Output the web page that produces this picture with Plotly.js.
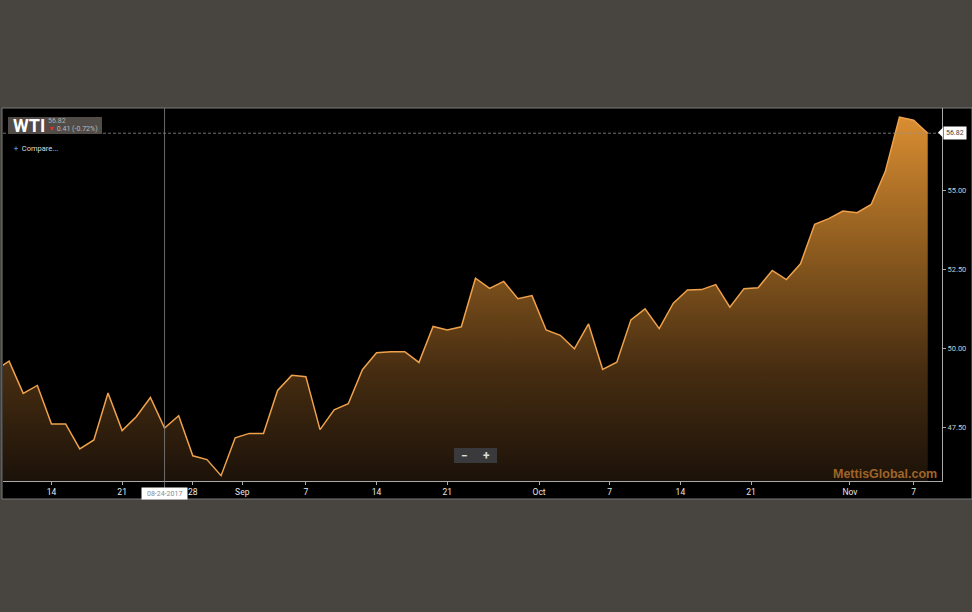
<!DOCTYPE html>
<html>
<head>
<meta charset="utf-8">
<script src="https://cdn.plot.ly/plotly-3.0.1.min.js"></script>
<style>
  html, body { margin: 0; padding: 0; background: #48443f; }
  #chart { width: 972px; height: 612px; }
</style>
</head>
<body>
<div id="chart"></div>
<script>
// ---- data (WTI daily close) ----
const dates = [
  '2017-08-08','2017-08-09','2017-08-10','2017-08-11',
  '2017-08-14','2017-08-15','2017-08-16','2017-08-17','2017-08-18',
  '2017-08-21','2017-08-22','2017-08-23','2017-08-24','2017-08-25',
  '2017-08-28','2017-08-29','2017-08-30','2017-08-31','2017-09-01',
  '2017-09-04','2017-09-05','2017-09-06','2017-09-07','2017-09-08',
  '2017-09-11','2017-09-12','2017-09-13','2017-09-14','2017-09-15',
  '2017-09-18','2017-09-19','2017-09-20','2017-09-21','2017-09-22',
  '2017-09-25','2017-09-26','2017-09-27','2017-09-28','2017-09-29',
  '2017-10-02','2017-10-03','2017-10-04','2017-10-05','2017-10-06',
  '2017-10-09','2017-10-10','2017-10-11','2017-10-12','2017-10-13',
  '2017-10-16','2017-10-17','2017-10-18','2017-10-19','2017-10-20',
  '2017-10-23','2017-10-24','2017-10-25','2017-10-26','2017-10-27',
  '2017-10-30','2017-10-31','2017-11-01','2017-11-02','2017-11-03',
  '2017-11-06','2017-11-07','2017-11-08'
];
const wti = [
  49.30, 49.59, 48.57, 48.82,
  47.60, 47.60, 46.81, 47.09, 48.58,
  47.39, 47.83, 48.44, 47.47, 47.86,
  46.59, 46.47, 45.96, 47.16, 47.30,
  47.30, 48.66, 49.14, 49.10, 47.42,
  48.05, 48.24, 49.32, 49.86, 49.89,
  49.89, 49.55, 50.69, 50.58, 50.68,
  52.22, 51.90, 52.12, 51.57, 51.67,
  50.58, 50.41, 49.98, 50.77, 49.33,
  49.56, 50.90, 51.25, 50.62, 51.43,
  51.85, 51.86, 52.02, 51.30, 51.89,
  51.92, 52.47, 52.18, 52.68, 53.93,
  54.11, 54.35, 54.30, 54.56, 55.61,
  57.33, 57.23, 56.82
];
// x tick positions (dates) and their labels
const tickDates = [
  '2017-08-14','2017-08-21','2017-08-28','2017-08-31 12:00','2017-09-07',
  '2017-09-14','2017-09-21','2017-09-29 12:00','2017-10-06 12:00','2017-10-13 12:00',
  '2017-10-20 12:00','2017-10-31 12:00','2017-11-07'
];
const tickLabels = ['14','21','28','Sep','7','14','21','Oct','7','14','21','Nov','7'];
const yTicks = [47.5, 50, 52.5, 55];
const symbol = 'WTI';
const change = '0.41 (-0.72%)';
const crossDate = '2017-08-24';

// ---- geometry helpers ----
const PL = 3, PR = 942, PT = 108, PB = 481;
const PW = PR - PL, PH = PB - PT;
const px = x => (x - PL) / PW;
const py = y => (PB - y) / PH;

const yRange = [45.79, 57.62];
const xRange = ['2017-08-08 13:40', '2017-11-09 00:15'];
const last = wti[wti.length - 1];
const cd = crossDate.split('-');
const crossLabel = cd[1] + '-' + cd[2] + '-' + cd[0];

const trace = {
  type: 'scatter',
  mode: 'lines',
  x: dates,
  y: wti,
  line: { color: '#efa24b', width: 1.5 },
  fill: 'tozeroy',
  fillgradient: {
    type: 'vertical',
    start: yRange[0],
    stop: yRange[1],
    colorscale: [
      [0, '#1c1209'],
      [0.3, '#472d11'],
      [0.65, '#935f20'],
      [1, '#df9133']
    ]
  },
  hoverinfo: 'skip'
};

const layout = {
  width: 972,
  height: 612,
  margin: { l: PL, r: 972 - PR, t: PT, b: 612 - PB, pad: 0 },
  paper_bgcolor: '#48443f',
  plot_bgcolor: '#000000',
  showlegend: false,
  font: { family: 'Roboto, "Liberation Sans", sans-serif', color: '#dddddd' },
  xaxis: {
    type: 'date',
    range: xRange,
    rangebreaks: [{ bounds: ['sat', 'mon'] }],
    tickmode: 'array',
    tickvals: tickDates,
    ticktext: tickLabels,
    ticks: 'outside',
    ticklen: 3,
    tickcolor: '#aaaaaa',
    showline: true,
    linecolor: '#aaaaaa',
    linewidth: 1,
    showgrid: false,
    zeroline: false,
    tickfont: { family: 'Roboto, sans-serif', size: 8.5, color: '#e6e6e6' },
    fixedrange: true
  },
  yaxis: {
    side: 'right',
    range: yRange,
    tickmode: 'array',
    tickvals: yTicks,
    tickformat: '.2f',
    ticks: 'outside',
    ticklen: 3,
    tickcolor: '#aaaaaa',
    showline: true,
    linecolor: '#aaaaaa',
    linewidth: 1,
    showgrid: false,
    zeroline: false,
    tickfont: { family: 'Roboto, sans-serif', size: 7.5, color: '#cccccc' },
    fixedrange: true
  },
  shapes: [
    // black chart panel with thin border
    { type: 'rect', xref: 'paper', yref: 'paper', layer: 'below',
      x0: px(2), x1: px(972), y0: py(499), y1: py(108),
      fillcolor: '#000000', line: { color: '#7a7a7a', width: 1 } },
    // last price dashed line
    { type: 'line', xref: 'paper', yref: 'y', x0: 0, x1: 1, y0: last, y1: last,
      layer: 'above', line: { color: 'rgba(150,150,150,0.75)', width: 1, dash: '3px,2px' } },
    // crosshair
    { type: 'line', xref: 'x', yref: 'paper', x0: crossDate, x1: crossDate,
      y0: py(499), y1: 1, layer: 'above', line: { color: 'rgba(130,130,130,0.8)', width: 1 } },
    // symbol box
    { type: 'rect', xref: 'paper', yref: 'paper', layer: 'above',
      x0: px(8), x1: px(102), y0: py(134), y1: py(117),
      fillcolor: '#514c47', line: { width: 0 } },
    // zoom buttons box
    { type: 'rect', xref: 'paper', yref: 'paper', layer: 'above',
      x0: px(454), x1: px(497), y0: py(463), y1: py(448),
      fillcolor: '#3a3a3c', line: { width: 0 } },
    // arrow tip of the price label
    { type: 'path', xref: 'paper', yref: 'paper', layer: 'above',
      path: 'M ' + px(938) + ' ' + py(132.5) + ' L ' + px(943) + ' ' + py(127.5) +
            ' L ' + px(943) + ' ' + py(137.5) + ' Z',
      fillcolor: '#ffffff', line: { width: 0 } }
  ],
  annotations: [
    { xref: 'paper', yref: 'paper', x: px(11), y: py(125.5), xanchor: 'left', yanchor: 'middle',
      text: '<b>' + symbol + '</b>', showarrow: false,
      font: { family: '"Liberation Sans Narrow", "Roboto", sans-serif', size: 18, color: '#ffffff' } },
    { xref: 'paper', yref: 'paper', x: px(46), y: py(120.5), xanchor: 'left', yanchor: 'middle',
      text: last.toFixed(2), showarrow: false,
      font: { family: 'Roboto, sans-serif', size: 7, color: '#b0b0b0' } },
    { xref: 'paper', yref: 'paper', x: px(46), y: py(128.5), xanchor: 'left', yanchor: 'middle',
      text: '<span style="color:#e0302a">▼</span> ' + change, showarrow: false,
      font: { family: 'Roboto, sans-serif', size: 7, color: '#b8b8b8' } },
    { xref: 'paper', yref: 'paper', x: px(12), y: py(148), xanchor: 'left', yanchor: 'middle',
      text: '<span style="color:#4a7fe0"><b>+</b></span>  Compare...', showarrow: false,
      font: { family: 'Roboto, sans-serif', size: 7.5, color: '#dddddd' } },
    { xref: 'paper', yref: 'paper', x: px(464.5), y: py(455.5), xanchor: 'center', yanchor: 'middle',
      text: '<b>−</b>', showarrow: false,
      font: { family: 'Roboto, sans-serif', size: 12, color: '#dddddd' } },
    { xref: 'paper', yref: 'paper', x: px(486.5), y: py(455.5), xanchor: 'center', yanchor: 'middle',
      text: '<b>+</b>', showarrow: false,
      font: { family: 'Roboto, sans-serif', size: 12, color: '#dddddd' } },
    { xref: 'paper', yref: 'paper', x: px(939), y: py(473.5), xanchor: 'right', yanchor: 'middle',
      text: '<b>MettisGlobal.com</b>', showarrow: false,
      font: { family: '"Liberation Sans", Arial, sans-serif', size: 12.5, color: '#9f6428' } },
    { xref: 'paper', yref: 'y', x: 1, y: last, xanchor: 'left', yanchor: 'middle', xshift: 1,
      text: last.toFixed(2), showarrow: false, bgcolor: '#ffffff', borderpad: 2,
      font: { family: 'Roboto, sans-serif', size: 7, color: '#444444' } },
    { xref: 'x', yref: 'paper', x: crossDate, y: py(493.5), xanchor: 'center', yanchor: 'middle',
      text: '&nbsp;&nbsp;' + crossLabel + '&nbsp;&nbsp;', showarrow: false, bgcolor: '#ffffff', borderpad: 1.5,
      font: { family: 'Roboto, sans-serif', size: 7, color: '#8a8a8a' } }
  ]
};

Plotly.newPlot('chart', [trace], layout, { displayModeBar: false, staticPlot: true });
</script>
</body>
</html>
